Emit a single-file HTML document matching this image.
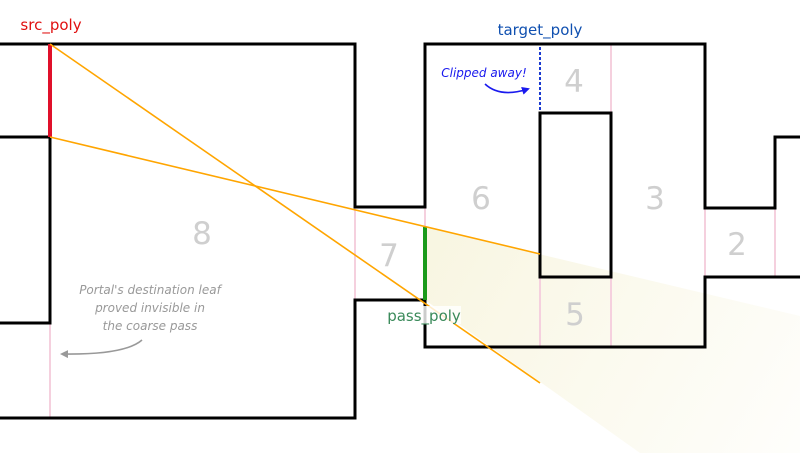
<!DOCTYPE html>
<html><head><meta charset="utf-8"><style>
html,body{margin:0;padding:0;background:#fff;width:800px;height:453px;overflow:hidden}
svg{display:block}
text{font-family:"DejaVu Sans","Liberation Sans",sans-serif}
</style></head><body>
<svg width="800" height="453" viewBox="0 0 800 453">
<defs>
<linearGradient id="g" x1="425" y1="240" x2="800" y2="453" gradientUnits="userSpaceOnUse">
<stop offset="0" stop-color="#f7f4dc" stop-opacity="0.85"/>
<stop offset="1" stop-color="#f7f4dc" stop-opacity="0.1"/>
</linearGradient>
<marker id="ab" markerWidth="8" markerHeight="8" refX="6" refY="4" orient="auto" markerUnits="userSpaceOnUse"><path d="M0,0 L8,4 L0,8 z" fill="#1a1aee"/></marker>
<marker id="ag" markerWidth="8" markerHeight="8" refX="6" refY="4" orient="auto" markerUnits="userSpaceOnUse"><path d="M0,0 L8,4 L0,8 z" fill="#999"/></marker>
</defs>
<polygon points="425,227 800,316 800,453 640,453 425,300" fill="url(#g)"/>
<g stroke="#f5d0de" stroke-width="2">
<line x1="50" y1="323" x2="50" y2="418"/>
<line x1="355" y1="207" x2="355" y2="300"/>
<line x1="425" y1="207" x2="425" y2="227"/>
<line x1="540" y1="277" x2="540" y2="347"/>
<line x1="611" y1="44" x2="611" y2="113"/>
<line x1="611" y1="277" x2="611" y2="347"/>
<line x1="705" y1="208" x2="705" y2="277"/>
<line x1="775" y1="208" x2="775" y2="277"/>
</g>
<line x1="540" y1="47" x2="540" y2="113" stroke="#1a3ad0" stroke-width="2" stroke-dasharray="3,2"/>
<g fill="none" stroke="#000" stroke-width="3" stroke-linejoin="miter">
<polyline points="0,44 355,44 355,207 425,207 425,44 705,44 705,208 775,208 775,137 800,137"/>
<polyline points="0,137 50,137 50,323 0,323"/>
<polyline points="0,418 355,418 355,300 425,300 425,347 705,347 705,277 800,277"/>
<rect x="540" y="113" width="71" height="164"/>
</g>
<line x1="50" y1="44" x2="50" y2="137" stroke="#e0102a" stroke-width="4"/>
<line x1="425" y1="227" x2="425" y2="300" stroke="#1a9a1a" stroke-width="4"/>
<g stroke="#ffa500" stroke-width="1.6">
<line x1="50" y1="44" x2="540" y2="383"/>
<line x1="50" y1="137" x2="540" y2="254"/>
</g>
<g fill="#cfcfcf" font-size="31" text-anchor="middle">
<text x="202" y="244">8</text>
<text x="389" y="266">7</text>
<text x="481" y="209">6</text>
<text x="574" y="92">4</text>
<text x="655" y="209">3</text>
<text x="575" y="325">5</text>
<text x="737" y="255">2</text>
</g>
<text x="51" y="30" fill="#e01010" font-size="15" text-anchor="middle">src_poly</text>
<text x="540" y="35" fill="#1050b0" font-size="15" text-anchor="middle">target_poly</text>
<rect x="387" y="306" width="74" height="18" fill="#fff" opacity="0.8"/>
<text x="424" y="321" fill="#3a8a5a" font-size="15" text-anchor="middle">pass_poly</text>
<text x="484" y="77" fill="#1a1aee" font-size="12" font-style="italic" text-anchor="middle">Clipped away!</text>
<path d="M485,84 Q500,98 528,89" fill="none" stroke="#1a1aee" stroke-width="1.6" marker-end="url(#ab)"/>
<g fill="#999" font-size="12" font-style="italic" text-anchor="middle">
<text x="150" y="294">Portal's destination leaf</text>
<text x="150" y="312">proved invisible in</text>
<text x="150" y="330">the coarse pass</text>
</g>
<path d="M142,340 Q125,355 62,354" fill="none" stroke="#999" stroke-width="1.6" marker-end="url(#ag)"/>
</svg>
</body></html>
